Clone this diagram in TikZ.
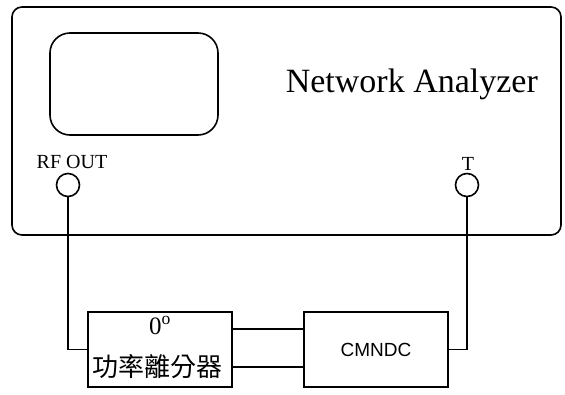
\documentclass[tikz,border=0pt]{standalone}
\usepackage{fontspec}
\setmainfont{Liberation Serif}
\newfontfamily\arialf{Liberation Sans}
\newfontfamily\cjk{Noto Sans CJK TC}
\begin{document}
\begin{tikzpicture}[x=1pt,y=-1pt,
  line width=1.6pt,
  box/.style={draw, inner sep=0pt, minimum width=144pt, minimum height=75pt},
  port/.style={draw, circle, inner sep=0pt, minimum size=23pt},
  lbl/.style={inner sep=0pt, anchor=base}]
\useasboundingbox (0,0) rectangle (565,394);
\node[draw, rounded corners=10pt, inner sep=0pt, minimum width=549pt, minimum height=228pt] (na) at (286.5,121) {};
\node[draw, rounded corners=20pt, inner sep=0pt, minimum width=168pt, minimum height=102pt] (scr) at (134,84) {};
\node[inner sep=0pt, anchor=base west, font=\fontsize{34}{40}\selectfont] (title) at (285,92) {Network Analyzer};
\node[lbl, font=\fontsize{20}{24}\selectfont] (rflbl) at (72,168) {RF OUT};
\node[lbl, font=\fontsize{20}{24}\selectfont] (tlbl) at (468,170) {T};
\node[port] (rf) at (68,185) {};
\node[port] (t) at (467,185) {};
\node[box] (split) at (160,349.5) {};
\node[lbl, font=\fontsize{25}{30}\selectfont] (deg) at (160,334) {0\textsuperscript{o}};
\node[inner sep=0pt, font=\cjk\fontsize{26}{30}\selectfont] (spname) at (157,367) {功率離分器};
\node[box, font=\arialf\fontsize{19}{23}\selectfont] (cm) at (376,349.5) {CMNDC};
\draw (rf.south) |- (split.west);
\draw (t.south) |- (cm.east);
\draw (split.east |- 0,329) -- (cm.west |- 0,329);
\draw (split.east |- 0,367) -- (cm.west |- 0,367);
\end{tikzpicture}
\end{document}
